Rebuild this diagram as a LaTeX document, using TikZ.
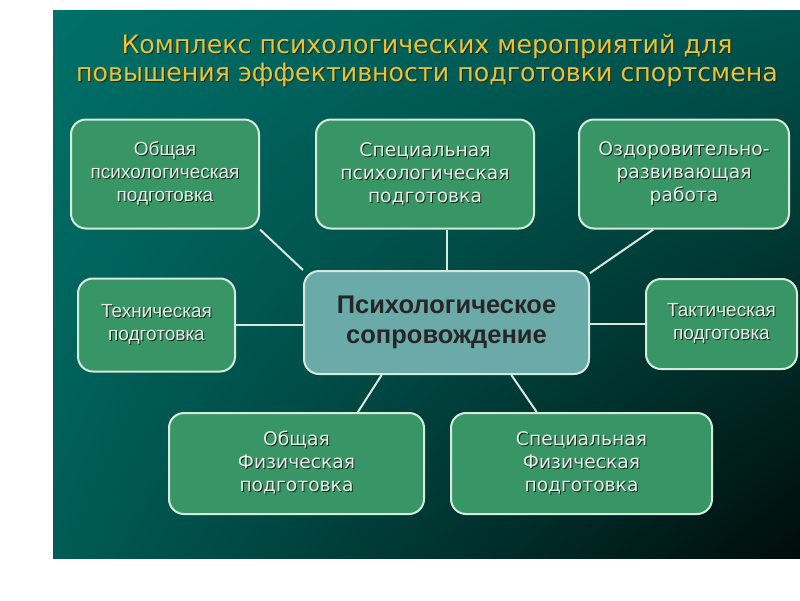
\documentclass[tikz,border=0pt]{standalone}
\usepackage{fontspec}
\setmainfont{DejaVu Sans}
\newfontfamily\arialfont{Liberation Sans}
\usetikzlibrary{backgrounds,shadings}

\definecolor{boxgreen}{RGB}{56,150,102}
\definecolor{boxrim}{RGB}{214,234,220}
\definecolor{centerteal}{RGB}{106,170,168}
\definecolor{boxtext}{RGB}{230,236,230}
\definecolor{titleyellow}{RGB}{232,196,52}
\definecolor{shadowcol}{RGB}{20,40,30}
\definecolor{bgtl}{RGB}{0,112,104}
\definecolor{bgtr}{RGB}{0,84,78}
\definecolor{bgbl}{RGB}{0,92,86}
\definecolor{bgbr}{RGB}{0,12,10}

% text with a small drop shadow
\newcommand\shd[1]{\leavevmode\rlap{\kern1pt\raisebox{-1pt}{\textcolor{shadowcol}{#1}}}#1}

\tikzset{
  prepbox/.style={draw=boxrim, fill=boxgreen, line width=2pt, rounded corners=15pt,
    align=center, text=boxtext, inner sep=0pt, font=\fontsize{18.7}{23}\selectfont},
  arialbox/.style={prepbox, font=\arialfont\fontsize{19}{23}\selectfont},
  centerbox/.style={prepbox, fill=centerteal, text=black!85,
    font=\arialfont\bfseries\fontsize{25.5}{30}\selectfont},
  link/.style={draw=boxrim, line width=2pt}
}

\begin{document}
\begin{tikzpicture}[x=1pt,y=-1pt]
  \useasboundingbox (0,0) rectangle (800,600);

  % title
  \node (title) at (427,61) [align=center, text=titleyellow,
      font=\fontsize{25.3}{28}\selectfont]
      {\shd{Комплекс психологических мероприятий для}\\
       \shd{повышения эффективности подготовки спортсмена}};

  % upper row
  \node[arialbox, minimum width=188pt, minimum height=109pt] (ob) at (165,174)
      {\shd{Общая}\\\shd{психологическая}\\\shd{подготовка}};
  \node[prepbox, minimum width=218pt, minimum height=109pt] (sp) at (425,174)
      {\shd{Специальная}\\\shd{психологическая}\\\shd{подготовка}};
  \node[prepbox, minimum width=210pt, minimum height=109pt] (oz) at (684,174)
      {\shd{Оздоровительно-}\\\shd{развивающая}\\\shd{работа}};

  % middle row
  \node[arialbox, minimum width=157pt, minimum height=93pt] (tex) at (156.5,325)
      {\shd{Техническая}\\\shd{подготовка}};
  \node[centerbox, minimum width=285pt, minimum height=103pt] (ps) at (446.5,322.5)
      {Психологическое\\сопровождение};
  \node[arialbox, minimum width=151pt, minimum height=90pt] (tak) at (721.5,324)
      {\shd{Тактическая}\\\shd{подготовка}};

  % lower row
  \node[prepbox, minimum width=255pt, minimum height=101pt] (of) at (296.5,463.5)
      {\shd{Общая}\\\shd{Физическая}\\\shd{подготовка}};
  \node[prepbox, minimum width=261pt, minimum height=101pt] (sf) at (581.5,463.5)
      {\shd{Специальная}\\\shd{Физическая}\\\shd{подготовка}};

  \begin{scope}[on background layer]
    \shade[upper left=bgtl, upper right=bgtr, lower left=bgbl, lower right=bgbr]
      (53,10) rectangle (800,558);
    \draw[link] (ob.south east) -- (ps.north west);
    \draw[link] (ps.north) -- (ps.north |- sp.south);
    \draw[link] (oz.-119) -- (ps.19);
    \draw[link] (tex.east) -- (ps.west |- tex.east);
    \draw[link] (ps.east |- tak.west) -- (tak.west);
    \draw[link] (ps.-141) -- (of.40);
    \draw[link] (ps.-39) -- (sf.131);
  \end{scope}
\end{tikzpicture}
\end{document}
